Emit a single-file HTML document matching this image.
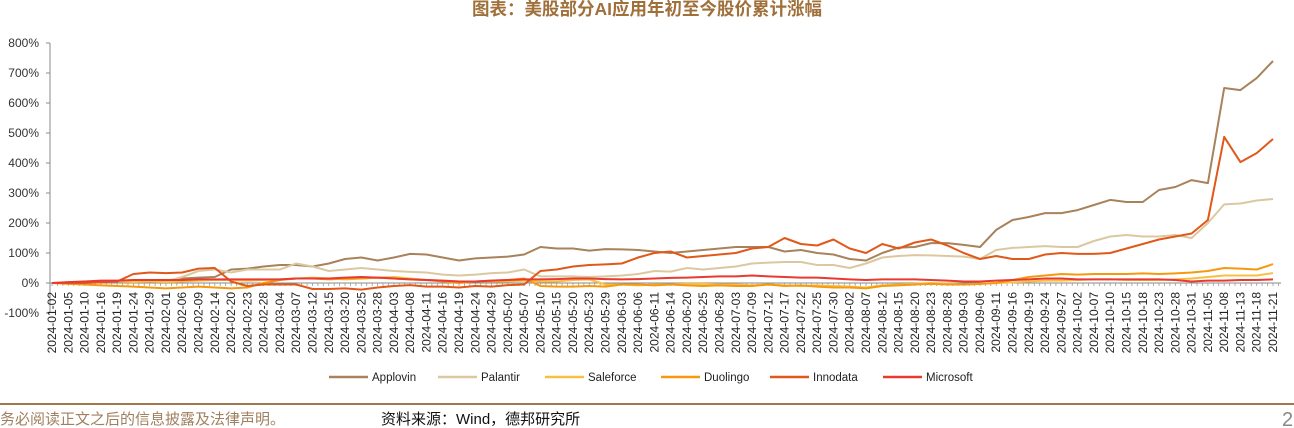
<!DOCTYPE html>
<html><head><meta charset="utf-8">
<style>
body{margin:0;background:#fff;width:1294px;height:428px;overflow:hidden;font-family:"Liberation Sans","Noto Sans CJK SC",sans-serif;}
svg{display:block}
</style></head>
<body>
<svg id="chart" width="1294" height="428" viewBox="0 0 1294 428" xmlns="http://www.w3.org/2000/svg">
<text x="647" y="15" text-anchor="middle" font-size="17.5" font-weight="bold" fill="#a0703a" font-family="Liberation Sans, Noto Sans CJK SC, sans-serif">图表：美股部分AI应用年初至今股价累计涨幅</text>
<g id="axes"></g>
<g id="series"></g>
<g id="legend"></g>
<line x1="0" y1="404" x2="1294" y2="404" stroke="#a07850" stroke-width="2"/>
<text x="-15" y="424" font-size="15" fill="#a08060" font-family="Liberation Sans, Noto Sans CJK SC, sans-serif">请务必阅读正文之后的信息披露及法律声明。</text>
<text x="381" y="424" font-size="15" fill="#111" font-family="Liberation Sans, Noto Sans CJK SC, sans-serif">资料来源：Wind，德邦研究所</text>
<text x="1282" y="426" font-size="20" fill="#888">2</text>
</svg>
<script>
const dates = ["2024-01-02","2024-01-05","2024-01-10","2024-01-16","2024-01-19","2024-01-24","2024-01-29","2024-02-01","2024-02-06","2024-02-09","2024-02-14","2024-02-20","2024-02-23","2024-02-28","2024-03-04","2024-03-07","2024-03-12","2024-03-15","2024-03-20","2024-03-25","2024-03-28","2024-04-03","2024-04-08","2024-04-11","2024-04-16","2024-04-19","2024-04-24","2024-04-29","2024-05-02","2024-05-07","2024-05-10","2024-05-15","2024-05-20","2024-05-23","2024-05-29","2024-06-03","2024-06-06","2024-06-11","2024-06-14","2024-06-20","2024-06-25","2024-06-28","2024-07-03","2024-07-09","2024-07-12","2024-07-17","2024-07-22","2024-07-25","2024-07-30","2024-08-02","2024-08-07","2024-08-12","2024-08-15","2024-08-20","2024-08-23","2024-08-28","2024-09-03","2024-09-06","2024-09-11","2024-09-16","2024-09-19","2024-09-24","2024-09-27","2024-10-02","2024-10-07","2024-10-10","2024-10-15","2024-10-18","2024-10-23","2024-10-28","2024-10-31","2024-11-05","2024-11-08","2024-11-13","2024-11-18","2024-11-21"];
const yTicks = [-100,0,100,200,300,400,500,600,700,800];
const seriesNames = ["Applovin","Palantir","Saleforce","Duolingo","Innodata","Microsoft"];
const applovin = [0,0,2,3,5,5,10,8,15,18,20,45,48,55,60,60,55,65,80,85,75,85,97,95,85,75,82,85,88,95,120,115,115,108,113,112,110,105,100,105,110,115,120,120,120,105,110,100,95,80,75,100,118,120,133,133,127,120,177,210,220,233,233,243,260,277,270,270,310,320,343,333,650,643,683,740];
const palantir = [0,0,2,3,5,5,5,5,20,40,45,35,45,45,45,65,55,40,45,50,45,40,37,35,28,25,28,33,35,45,22,22,22,20,22,25,30,40,38,50,45,50,55,65,68,70,70,60,60,50,65,85,90,93,92,90,88,80,110,117,120,123,120,120,140,155,160,155,155,160,150,200,262,265,275,280];
const saleforce = [0,2,5,5,5,3,5,3,5,8,10,10,8,10,12,15,18,15,12,15,18,20,15,10,8,5,5,5,5,8,5,5,10,12,-5,-5,-8,-5,-5,-3,-3,-5,-5,-8,-5,-8,-10,-8,-10,-12,-15,-8,-5,-3,0,-2,-5,-3,0,2,5,8,8,10,12,12,10,10,10,12,15,20,25,25,25,33];
const duolingo = [0,-3,-5,-8,-10,-12,-15,-18,-15,-12,-15,-18,-15,0,10,15,15,12,15,15,18,15,12,10,5,0,5,8,10,15,-10,-12,-12,-10,-12,-5,-5,-8,-5,-8,-10,-8,-10,-10,-5,-10,-8,-12,-15,-15,-18,-10,-8,-5,-3,-5,-5,-3,0,10,20,25,30,28,30,30,30,32,30,32,35,40,50,48,45,63];
const innodata = [0,0,0,2,5,30,35,33,35,48,50,5,-10,-5,-5,-5,-20,-20,-18,-22,-15,-10,-7,-12,-12,-15,-10,-12,-7,-5,40,45,55,60,62,65,85,100,105,85,90,95,100,115,120,150,130,125,145,115,100,130,115,135,145,125,100,80,90,80,80,95,100,97,97,100,115,130,145,155,165,210,487,403,433,480];
const microsoft = [0,3,5,8,8,10,10,10,10,12,12,12,12,12,12,15,15,15,18,20,18,15,12,10,8,5,5,8,10,12,12,13,15,15,13,12,13,15,17,18,20,22,22,25,22,20,18,18,15,12,10,12,12,12,10,8,5,5,8,10,12,15,15,12,12,12,12,12,12,10,5,8,8,10,10,12];
const colors = ["#a8825a","#dcc8a0","#f8c040","#f59a10","#e0581a","#e83a30"];

const NS="http://www.w3.org/2000/svg";
const X0=52, X1=1273, Y0=283, YPER=0.3;
function x(i){return X0+i*(X1-X0)/(dates.length-1);}
function y(v){return Y0-v*YPER;}
function mk(tag,attrs,parent){const e=document.createElementNS(NS,tag);for(const k in attrs)e.setAttribute(k,attrs[k]);parent.appendChild(e);return e;}
const axes=document.getElementById('axes');
const yAxis=mk('line',{x1:50,y1:y(800),x2:50,y2:y(-100),stroke:'#888','stroke-width':1},axes);


yTicks.forEach(v=>{
  const t=mk('line',{x1:46,y1:y(v),x2:50,y2:y(v),stroke:'#888'},axes);
  
  
  const l=mk('text',{x:39,y:y(v)+4,'text-anchor':'end','font-size':12,fill:'#333'},axes);
  l.textContent=v+'%';
  
  
});
const xAxis=mk('line',{x1:50,y1:Y0,x2:1281,y2:Y0,stroke:'#888'},axes);


const step=(X1-X0)/(dates.length-1)/3;
for(let k=0;k*step+X0<=1281;k++){
  const t=mk('line',{x1:X0+k*step,y1:Y0,x2:X0+k*step,y2:Y0+3,stroke:'#999','stroke-width':0.8},axes);
  
  
}
dates.forEach((d,i)=>{
  const l=mk('text',{transform:`translate(${x(i)+4},292) rotate(-90)`,'text-anchor':'end','font-size':12,fill:'#222'},axes);
  l.textContent=d;
  
  
});
const data=[applovin,palantir,saleforce,duolingo,innodata,microsoft];
const sg=document.getElementById('series');
data.forEach((arr,s)=>{
  const pts=arr.map((v,i)=>x(i).toFixed(1)+','+y(v).toFixed(1)).join(' ');
  const p=mk('polyline',{points:pts,fill:'none',stroke:colors[s],'stroke-width':2,'stroke-linejoin':'round'},sg);
  
  
});
const legendX=[329,438,545,661,770,883];
const lg=document.getElementById('legend');
seriesNames.forEach((n,s)=>{
  const g=mk('g',{},lg);
  
  
  mk('line',{x1:legendX[s],y1:377,x2:legendX[s]+39,y2:377,stroke:colors[s],'stroke-width':2.5},g);
  const t=mk('text',{x:legendX[s]+43,y:381,'font-size':11.5,fill:'#222'},g);
  t.textContent=n;
});
</script>
</body></html>
